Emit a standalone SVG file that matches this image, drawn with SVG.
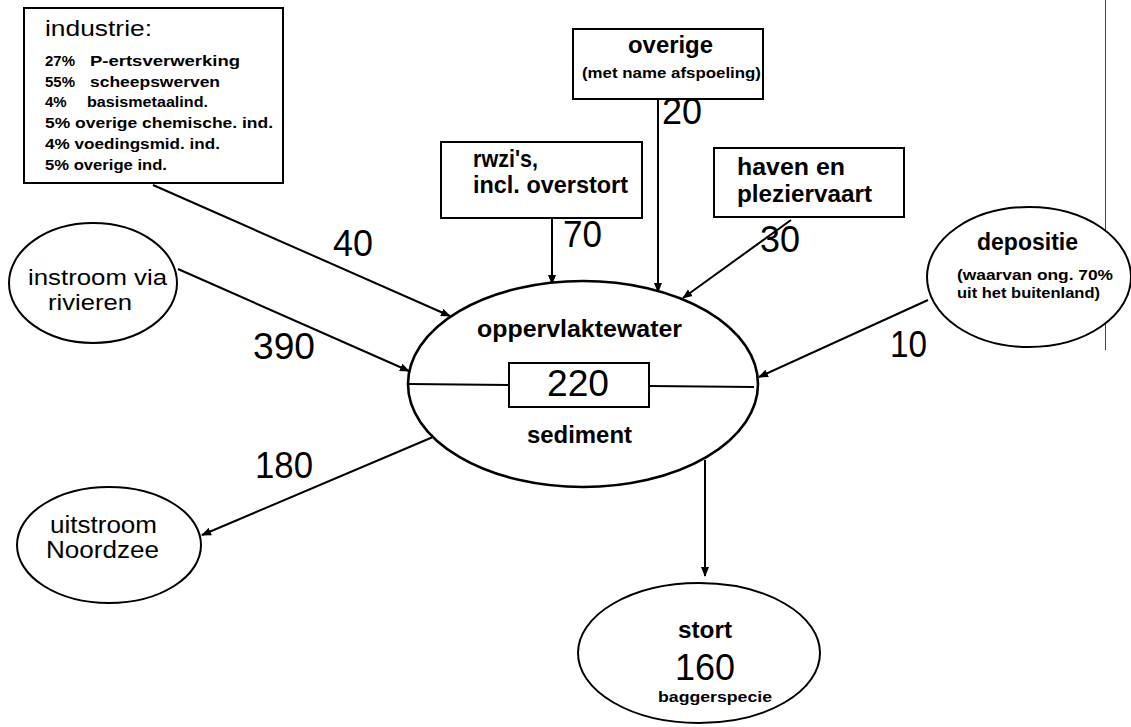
<svg xmlns="http://www.w3.org/2000/svg" width="1131" height="727" viewBox="0 0 1131 727">
  <style>
    .shape { fill: #fff; stroke: #000; stroke-width: 2; }
    .main { fill: #fff; stroke: #000; stroke-width: 2.6; }
    .flow { fill: none; stroke: #000; stroke-width: 2; marker-end: url(#arrow); }
    .t { font-family: "Liberation Sans", Arial, sans-serif; fill: #000; }
    .lbl { font-size: 23px; }
    .sml { font-size: 15px; font-weight: bold; }
    .num { font-size: 36px; }
    .bold { font-weight: bold; }
  </style>
  <defs>
    <marker id="arrow" viewBox="0 0 10 10" refX="9" refY="5" markerWidth="5" markerHeight="5" orient="auto" markerUnits="strokeWidth">
      <path d="M0,1 L10,5 L0,9 z" fill="#000"/>
    </marker>
  </defs>
  <rect width="1131" height="727" fill="#fff"/>

  <!-- page edge line on the right -->
  <line x1="1105.500" y1="0" x2="1105.500" y2="350" stroke="#444" stroke-width="1"/>

  <g id="connectors">
    <line class="flow" x1="153" y1="185" x2="450" y2="316"/>
    <line class="flow" x1="178" y1="269" x2="409" y2="371"/>
    <line class="flow" x1="552" y1="218" x2="552" y2="284"/>
    <line class="flow" x1="658" y1="99" x2="658" y2="292"/>
    <line class="flow" x1="791" y1="220" x2="683" y2="298"/>
    <line class="flow" x1="928" y1="300" x2="759" y2="377"/>
    <line class="flow" x1="433" y1="437" x2="202" y2="535"/>
    <line class="flow" x1="705" y1="460" x2="705" y2="576"/>
  </g>

  <g id="flow-values" class="t num">
    <text x="333" y="256" textLength="40" lengthAdjust="spacingAndGlyphs">40</text>
    <text x="253" y="359" textLength="62" lengthAdjust="spacingAndGlyphs">390</text>
    <text x="563" y="247" textLength="39" lengthAdjust="spacingAndGlyphs">70</text>
    <text x="662" y="124" textLength="40" lengthAdjust="spacingAndGlyphs">20</text>
    <text x="760" y="252" textLength="40" lengthAdjust="spacingAndGlyphs">30</text>
    <text x="890" y="357" textLength="37" lengthAdjust="spacingAndGlyphs">10</text>
    <text x="255" y="478" textLength="58" lengthAdjust="spacingAndGlyphs">180</text>
  </g>

  <g id="industrie">
    <rect class="shape" x="24" y="8" width="259" height="175"/>
    <text class="t" x="45" y="36" font-size="22" textLength="107" lengthAdjust="spacingAndGlyphs">industrie:</text>
    <text class="t sml" y="66"><tspan x="45">27%</tspan><tspan x="90" textLength="150" lengthAdjust="spacingAndGlyphs">P-ertsverwerking</tspan></text>
    <text class="t sml" y="87"><tspan x="45">55%</tspan><tspan x="90" textLength="130" lengthAdjust="spacingAndGlyphs">scheepswerven</tspan></text>
    <text class="t sml" y="107"><tspan x="45">4%</tspan><tspan x="87" textLength="121" lengthAdjust="spacingAndGlyphs">basismetaalind.</tspan></text>
    <text class="t sml" x="45" y="128" textLength="228" lengthAdjust="spacingAndGlyphs">5% overige chemische. ind.</text>
    <text class="t sml" x="45" y="149" textLength="175" lengthAdjust="spacingAndGlyphs">4% voedingsmid. ind.</text>
    <text class="t sml" x="45" y="170" textLength="122" lengthAdjust="spacingAndGlyphs">5% overige ind.</text>
  </g>

  <g id="overige">
    <rect class="shape" x="573" y="29" width="190" height="70"/>
    <text class="t lbl bold" x="628" y="53" textLength="85" lengthAdjust="spacingAndGlyphs">overige</text>
    <text class="t sml" x="582" y="78" textLength="179" lengthAdjust="spacingAndGlyphs">(met name afspoeling)</text>
  </g>

  <g id="rwzi">
    <rect class="shape" x="441" y="142" width="201" height="76"/>
    <text class="t lbl bold" x="473" y="167" textLength="65" lengthAdjust="spacingAndGlyphs">rwzi's,</text>
    <text class="t lbl bold" x="473" y="193" textLength="155" lengthAdjust="spacingAndGlyphs">incl. overstort</text>
  </g>

  <g id="haven">
    <rect class="shape" x="714" y="148" width="190" height="69"/>
    <text class="t lbl bold" x="737" y="175" textLength="108" lengthAdjust="spacingAndGlyphs">haven en</text>
    <text class="t lbl bold" x="737" y="202" textLength="135" lengthAdjust="spacingAndGlyphs">pleziervaart</text>
  </g>

  <g id="instroom">
    <ellipse class="shape" cx="93" cy="283" rx="84" ry="60"/>
    <text class="t" x="28" y="285" font-size="22" textLength="139" lengthAdjust="spacingAndGlyphs">instroom via</text>
    <text class="t" x="48" y="310" font-size="22" textLength="84" lengthAdjust="spacingAndGlyphs">rivieren</text>
  </g>

  <g id="depositie">
    <ellipse class="shape" cx="1029" cy="277" rx="102" ry="70"/>
    <text class="t lbl bold" x="977" y="250" textLength="101" lengthAdjust="spacingAndGlyphs">depositie</text>
    <text class="t sml" x="957" y="280" textLength="156" lengthAdjust="spacingAndGlyphs">(waarvan ong. 70%</text>
    <text class="t sml" x="957" y="298" textLength="143" lengthAdjust="spacingAndGlyphs">uit het buitenland)</text>
  </g>

  <g id="oppervlaktewater">
    <ellipse class="main" cx="583" cy="384" rx="175" ry="103"/>
    <line x1="409" y1="384" x2="509" y2="385" stroke="#000" stroke-width="2"/>
    <line x1="649" y1="386" x2="754" y2="387" stroke="#000" stroke-width="2"/>
    <rect class="shape" x="509" y="363" width="140" height="44"/>
    <text class="t num" x="547" y="396" textLength="62" lengthAdjust="spacingAndGlyphs">220</text>
    <text class="t lbl bold" x="477" y="337" textLength="205" lengthAdjust="spacingAndGlyphs">oppervlaktewater</text>
    <text class="t lbl bold" x="527" y="443" textLength="105" lengthAdjust="spacingAndGlyphs">sediment</text>
  </g>

  <g id="uitstroom">
    <ellipse class="shape" cx="109" cy="545" rx="92" ry="58"/>
    <text class="t" x="50" y="533" font-size="23" textLength="107" lengthAdjust="spacingAndGlyphs">uitstroom</text>
    <text class="t" x="46" y="558" font-size="23" textLength="113" lengthAdjust="spacingAndGlyphs">Noordzee</text>
  </g>

  <g id="stort">
    <ellipse class="shape" cx="699" cy="653" rx="121" ry="70"/>
    <text class="t lbl bold" x="678" y="638" textLength="54" lengthAdjust="spacingAndGlyphs">stort</text>
    <text class="t" x="675" y="680" font-size="36" textLength="60" lengthAdjust="spacingAndGlyphs">160</text>
    <text class="t sml" x="658" y="702" textLength="114" lengthAdjust="spacingAndGlyphs">baggerspecie</text>
  </g>
</svg>
